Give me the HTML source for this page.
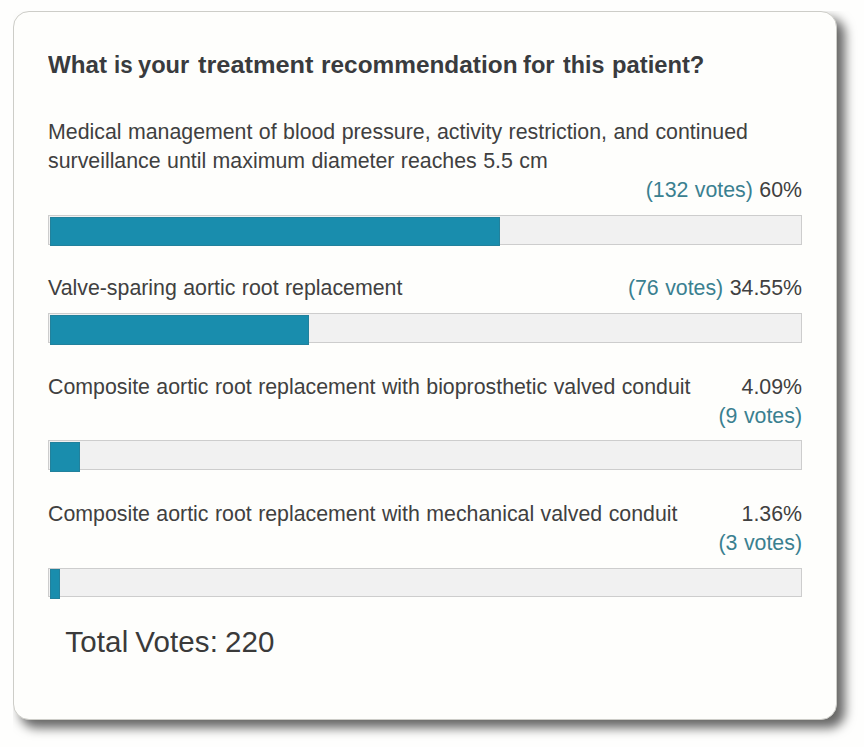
<!DOCTYPE html>
<html><head><meta charset="utf-8">
<style>
html,body{margin:0;padding:0;background:#fefefd;}
body{width:864px;height:747px;position:relative;overflow:hidden;font-family:"Liberation Sans",sans-serif;color:#3a3a3a;}
.card{position:absolute;left:13px;top:11px;width:822px;height:707px;border:1px solid #cdcdc8;border-radius:16px;background:#fefefc;box-shadow:7.5px 7.5px 11px rgba(0,0,0,0.6);clip-path:inset(0 -40px -40px 0);}
.t{position:absolute;white-space:nowrap;}
.title{position:absolute;left:0;top:52.1px;font-size:24px;font-weight:bold;color:#393b3e;line-height:28px;white-space:nowrap;}
.w{position:absolute;top:0;transform-origin:0 0;}
.opt{font-size:21.33px;line-height:28px;color:#404040;word-spacing:0.5px;}
.r{right:62px;text-align:right;}
.v{color:#3a8090;}
.bar{position:absolute;left:48px;width:752px;height:28px;border:1px solid #cdcdcd;background:#f1f1f1;}
.fill{position:absolute;left:50px;height:29px;background:#198dad;border:1px solid #22819c;box-sizing:border-box;}
.total{left:65.3px;top:625px;font-size:29.5px;line-height:33px;color:#3a3a3a;letter-spacing:0.15px;word-spacing:-1.5px;}
</style></head><body>
<div class="card"></div>
<div class="title"><span class="w" style="left:47.60px;transform:scale(1.0058,0.96)">What </span><span class="w" style="left:114.39px;transform:scale(0.9315,0.96)">is </span><span class="w" style="left:138.41px;transform:scale(0.9839,0.96)">your </span><span class="w" style="left:198.43px;transform:scale(1.0562,0.96)">treatment </span><span class="w" style="left:321.13px;transform:scale(1.0164,0.96)">recommendation </span><span class="w" style="left:523.41px;transform:scale(0.9865,0.96)">for </span><span class="w" style="left:563.23px;transform:scale(0.9686,0.96)">this </span><span class="w" style="left:612.26px;transform:scale(0.9899,0.96)">patient?</span></div>

<div class="t opt" style="left:48px;top:118px">Medical management of blood pressure, activity restriction, and continued</div>
<div class="t opt" style="left:48px;top:147px">surveillance until maximum diameter reaches 5.5 cm</div>
<div class="t opt r" style="top:176px"><span class="v">(132 votes)</span> 60%</div>
<div class="bar" style="top:215px"></div><div class="fill" style="top:217px;width:450px;height:29px"></div>

<div class="t opt" style="left:48px;top:274px">Valve-sparing aortic root replacement</div>
<div class="t opt r" style="top:274px"><span class="v">(76 votes)</span> 34.55%</div>
<div class="bar" style="top:313px"></div><div class="fill" style="top:315px;width:259px;height:29.6px"></div>

<div class="t opt" style="left:48px;top:373px">Composite aortic root replacement with bioprosthetic valved conduit</div>
<div class="t opt r" style="top:373px">4.09%</div>
<div class="t opt r v" style="top:402px">(9 votes)</div>
<div class="bar" style="top:440px"></div><div class="fill" style="top:442px;width:30px;height:29.8px"></div>

<div class="t opt" style="left:48px;top:500px">Composite aortic root replacement with mechanical valved conduit</div>
<div class="t opt r" style="top:500px">1.36%</div>
<div class="t opt r v" style="top:529px">(3 votes)</div>
<div class="bar" style="top:568px;height:27px"></div><div class="fill" style="top:568.7px;width:10px;height:30.2px"></div>

<div class="t total">Total Votes: 220</div>
</body></html>
